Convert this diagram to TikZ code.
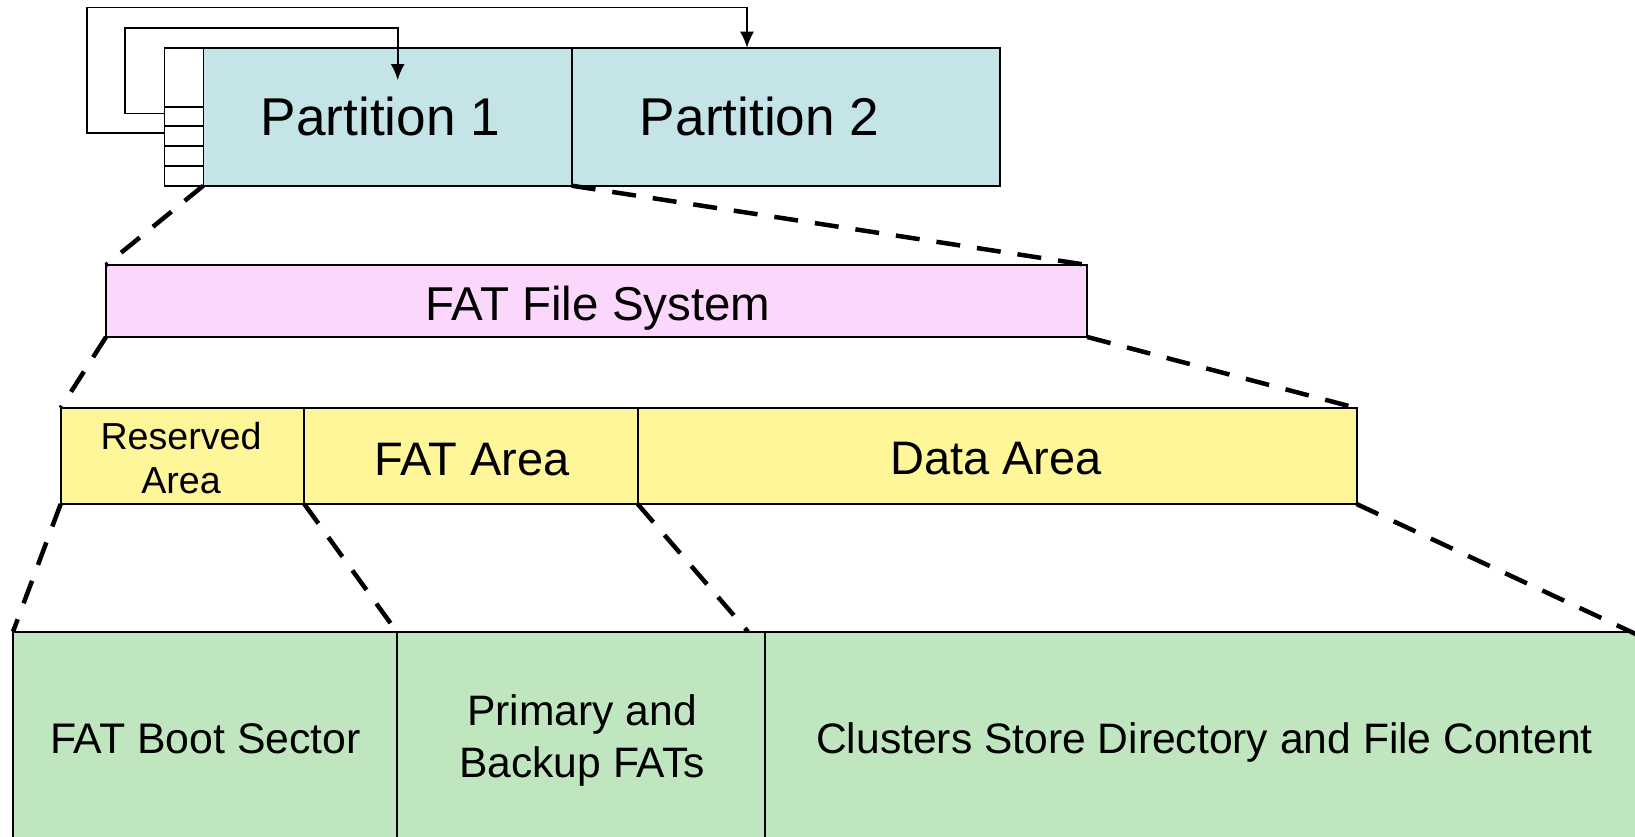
\documentclass[tikz,border=0pt]{standalone}
\usepackage{fontspec}
\setmainfont{Liberation Sans}
\usetikzlibrary{arrows.meta}
\definecolor{cyanfill}{RGB}{196,228,232}
\definecolor{pinkfill}{RGB}{252,215,252}
\definecolor{yellowfill}{RGB}{255,245,153}
\definecolor{greenfill}{RGB}{191,230,191}
\begin{document}
\begin{tikzpicture}[x=1pt,y=-1pt,
  box/.style={draw=black,line width=2pt,inner sep=0pt,outer sep=0pt,anchor=north west},
  lbl/.style={inner sep=0pt,outer sep=0pt,anchor=base},
  zoomline/.style={line width=4.5pt,dash pattern=on 24pt off 17pt},
  arr/.style={line width=1.6pt,-{Latex[length=16pt,width=14pt]}}
]
\useasboundingbox (0,0) rectangle (1635,836);
\clip (0,0) rectangle (1635,836);

% top row: partition table + partitions
\node[box,fill=cyanfill,minimum width=368.4pt,minimum height=138pt] (p1) at (203.3,47.7) {};
\node[box,fill=cyanfill,minimum width=428.3pt,minimum height=138pt] (p2) at (571.7,47.7) {};
\node[box,fill=white,line width=1.6pt,minimum width=39pt,minimum height=138pt] (pt) at (164.3,47.7) {};
\foreach \yy in {106.7,126,145.7,165.7}
  \draw[line width=1.6pt] (164.3,\yy) -- (203.3,\yy);
\node[lbl] (p1t) at (380.4,135) {\fontsize{53.2}{63}\selectfont Partition 1};
\node[lbl] (p2t) at (759.7,135) {\fontsize{53.2}{63}\selectfont Partition 2};

% arrows from partition table entries
\coordinate (a1s) at (164.3,113.3);
\coordinate (a1e) at (397.7,80);
\coordinate (a2s) at (164.3,132.7);
\coordinate (a2e) at (747,47.7);
\draw[arr] (a1s) -| (125,27.7) -| (a1e);
\draw[arr] (a2s) -| (86.7,7.3) -| (a2e);

% FAT file system
\node[box,fill=pinkfill,minimum width=981.3pt,minimum height=72pt] (fs) at (106,265) {};
\node[lbl] (fst) at (598,320) {\fontsize{47.5}{56}\selectfont FAT File System};

% areas
\node[box,fill=yellowfill,minimum width=243.6pt,minimum height=96pt] (ra) at (60.7,408) {};
\node[box,fill=yellowfill,minimum width=333.4pt,minimum height=96pt] (fa) at (304.3,408) {};
\node[box,fill=yellowfill,minimum width=718.8pt,minimum height=96pt] (da) at (637.7,408) {};
\node[lbl] (rat1) at (181,449.3) {\fontsize{37.6}{44}\selectfont Reserved};
\node[lbl] (rat2) at (181,493.3) {\fontsize{37.6}{44}\selectfont Area};
\node[lbl] (fat) at (472,475) {\fontsize{47}{56}\selectfont FAT Area};
\node[lbl] (dat) at (996,474) {\fontsize{47}{56}\selectfont Data Area};

% contents
\node[box,fill=greenfill,minimum width=383.7pt,minimum height=240pt] (bs) at (13,631.7) {};
\node[box,fill=greenfill,minimum width=368pt,minimum height=240pt] (pf) at (396.7,631.7) {};
\node[box,fill=greenfill,minimum width=880pt,minimum height=240pt] (cl) at (764.7,631.7) {};
\node[lbl] (bst) at (205.5,753.3) {\fontsize{42.8}{51}\selectfont FAT Boot Sector};
\node[lbl] (pft1) at (582,725.7) {\fontsize{42.6}{51}\selectfont Primary and};
\node[lbl] (pft2) at (582,777.3) {\fontsize{42.6}{51}\selectfont Backup FATs};
\node[lbl] (clt) at (1204.5,753.3) {\fontsize{42.6}{51}\selectfont Clusters Store Directory and File Content};

% zoom lines
\coordinate (fae) at (748,631.7);
\coordinate (dae) at (1640,636);
\draw[zoomline] (p1.south west) -- (fs.north west);
\draw[zoomline] (p2.south west) -- (fs.north east);
\draw[zoomline] (fs.south west) -- (ra.north west);
\draw[zoomline] (fs.south east) -- (da.north east);
\draw[zoomline] (ra.south west) -- (bs.north west);
\draw[zoomline] (ra.south east) -- (pf.north west);
\draw[zoomline] (fa.south east) -- (fae);
\draw[zoomline] (da.south east) -- (dae);
\end{tikzpicture}
\end{document}
